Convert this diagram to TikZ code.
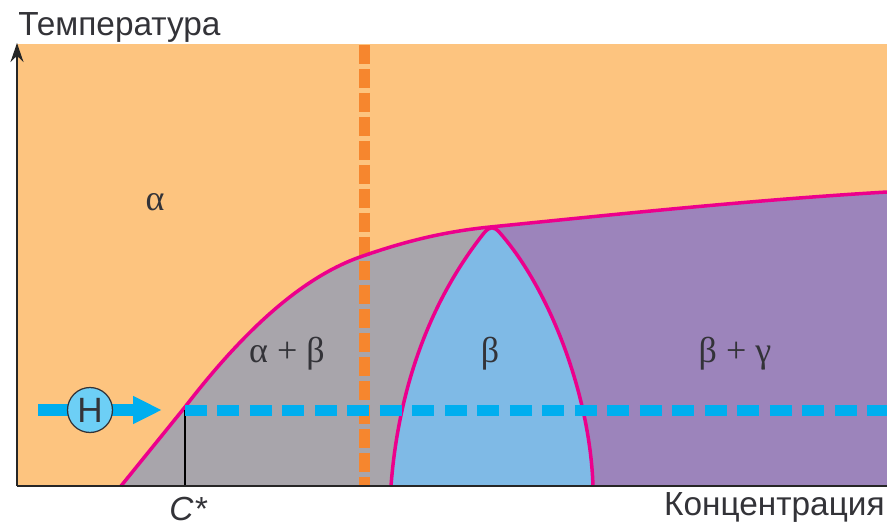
\documentclass[tikz,border=0pt]{standalone}
\usepackage{fontspec}
\setmainfont{Liberation Sans}
\newfontfamily\greekfont{Liberation Serif}
\usetikzlibrary{arrows.meta, positioning}
\definecolor{alphaorange}{HTML}{FDC47F}
\definecolor{mixgray}{HTML}{A8A5AB}
\definecolor{mixviolet}{HTML}{9C84BB}
\definecolor{betablue}{HTML}{7FBAE6}
\definecolor{linepink}{HTML}{EC008C}
\definecolor{dashorange}{HTML}{F6862E}
\definecolor{dashcyan}{HTML}{00AEEF}
\definecolor{heatblue}{HTML}{6DCFF6}
\definecolor{inkgray}{HTML}{333338}
\newcommand{\leftcurve}{(121,486) -- (185,407) .. controls (235,342) and (295,280) .. (360,257) .. controls (400,243) and (440,232) .. (490,227)}
\newcommand{\rightcurve}{(490,227) .. controls (600,216) and (750,200) .. (887,192)}
\newcommand{\lenscurve}{(391,486) .. controls (396,420) and (415,320) .. (484,233) .. controls (490,226) and (494,226) .. (500,233) .. controls (550,290) and (590,395) .. (593,486)}
\begin{document}
\begin{tikzpicture}[
    x=0.02cm, y=-0.02cm,
    axislabel/.style = {font=\fontsize{19}{22}\selectfont, text=inkgray, inner sep=0pt},
    phaselabel/.style = {font=\fontsize{20.5}{24}\selectfont\greekfont, text=inkgray, inner sep=0pt},
    boundary/.style = {draw=linepink, line width=0.07cm, line join=round},
    axisline/.style = {-{Stealth[length=0.38cm, width=0.26cm]}, draw=black!85, line width=0.03cm}
]
\useasboundingbox (0,0) rectangle (887,525);

% Phase Regions
\fill [alphaorange] (17,44) rectangle (887,486);
\fill [mixgray] \leftcurve -- (490,486) -- cycle;
\fill [mixviolet] \rightcurve -- (887,486) -- (490,486) -- cycle;
\fill [betablue] \lenscurve -- cycle;

% Orange Section
\coordinate (sectiontop) at (364,45);
\coordinate (sectionbottom) at (364,486);
\draw [dashorange, line width=0.22cm, dash pattern=on 0.38cm off 0.1cm] (sectiontop) -- (sectionbottom);

% Boundaries
\draw [boundary] \leftcurve;
\draw [boundary] \rightcurve;
\draw [boundary] \lenscurve;

% C* Level
\coordinate (cstar) at (185,410);
\coordinate (cstarfoot) at (185,486);
\coordinate (levelend) at (887,410);
\draw [black, line width=0.025cm] (cstar) -- (cstarfoot);
\draw [dashcyan, line width=0.22cm, dash pattern=on 0.44cm off 0.21cm] (cstar) -- (levelend);

% Axes
\coordinate (origin) at (17,486);
\coordinate (xend) at (887,486);
\coordinate (yend) at (17,43);
\draw [draw=black!85, line width=0.04cm] (origin) -- (xend);
\draw [axisline] (origin) -- (yend);

% Hydrogen Arrow
\coordinate (heatstart) at (38,410);
\coordinate (heatend) at (162,410);
\draw [-{Triangle[length=0.58cm, width=0.52cm]}, dashcyan, line width=0.25cm] (heatstart) -- (heatend);
\node (heat) [circle, draw=inkgray, fill=heatblue, line width=0.025cm, minimum size=0.9cm, inner sep=0pt, font=\fontsize{20}{22}\selectfont, text=inkgray] at (90,410) {H};

% Labels
\node (tlabel) [axislabel, anchor=west] at (18,27) {Температура};
\node (clabel) [axislabel, anchor=east] at (885,507) {Концентрация};
\node (cstarlabel) [axislabel, font=\fontsize{19}{22}\selectfont\itshape] at (188,509) {C*};
\node (alpha) [phaselabel] at (155,202) {α};
\node (alphabeta) [phaselabel] at (287,354) {α + β};
\node (beta) [phaselabel] at (490,354) {β};
\node (betagamma) [phaselabel] at (735,354) {β + γ};

\end{tikzpicture}
\end{document}
